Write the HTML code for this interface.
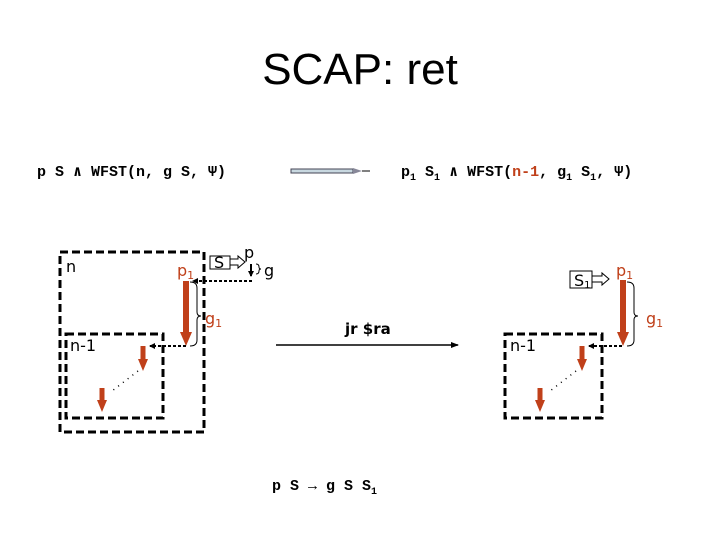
<!DOCTYPE html>
<html><head><meta charset="utf-8"><style>
html,body{margin:0;padding:0;background:#fff;}
svg{display:block}
.m{font-family:"Liberation Mono",monospace;font-size:15px;fill:#000;font-weight:bold}
.s{font-family:"DejaVu Sans","Liberation Sans",sans-serif;font-size:16px}
.o{fill:#c0401a}
</style></head><body>
<svg width="720" height="540" viewBox="0 0 720 540" xmlns="http://www.w3.org/2000/svg">
<defs>
<marker id="ah" markerWidth="8" markerHeight="8" refX="7" refY="4" orient="auto" markerUnits="userSpaceOnUse"><path d="M0,1 L8,4 L0,7 z" fill="#000"/></marker>
<marker id="sh" markerWidth="6" markerHeight="6" refX="5" refY="3" orient="auto" markerUnits="userSpaceOnUse"><path d="M0,0 L6,3 L0,6 z" fill="#000"/></marker>
</defs>
<text x="360" y="84" text-anchor="middle" font-family="Liberation Sans, sans-serif" font-size="44">SCAP: ret</text>

<text class="m" x="37" y="176">p S ∧ WFST(n, g S, Ψ)</text>
<rect x="291" y="169" width="62" height="4" fill="#c8d8e0" stroke="#445" stroke-width="1"/>
<path d="M353,168 L362,171 L353,174 z" fill="#889"/><line x1="362" y1="171" x2="370" y2="171" stroke="#000"/>
<text class="m" x="401" y="176">p<tspan font-size="10" dy="4">1</tspan><tspan dy="-4"> S</tspan><tspan font-size="10" dy="4">1</tspan><tspan dy="-4"> ∧ WFST(</tspan><tspan class="o">n-1</tspan>, g<tspan font-size="10" dy="4">1</tspan><tspan dy="-4"> S</tspan><tspan font-size="10" dy="4">1</tspan><tspan dy="-4">, Ψ)</tspan></text>

<!-- left -->
<g fill="none" stroke="#000" stroke-width="3" stroke-dasharray="8,4">
<rect x="60" y="252" width="144" height="180"/>
<rect x="66" y="334" width="97" height="84"/>
<rect x="505" y="334" width="97" height="84"/>
</g>
<text class="s" x="66" y="272">n</text>
<text class="s" x="70" y="351">n-1</text>
<text class="s o" x="177" y="276">p<tspan font-size="11" dy="3">1</tspan></text>
<rect x="210" y="256" width="20" height="13" fill="#fff" stroke="#000"/>
<text class="s" x="214" y="268" font-size="14">S</text>
<path d="M230,259 h8 v-3 l7,6 l-7,6 v-3 h-8 z" fill="#fff" stroke="#000"/>
<text class="s" x="244" y="258">p</text>
<line x1="251" y1="264" x2="251" y2="276" stroke="#000" stroke-width="2" marker-end="url(#sh)"/>
<path d="M256,264 q3,0 3,3 q0,2 2,2 q-2,0 -2,2 q0,3 -3,3" fill="none" stroke="#000"/>
<text class="s" x="264" y="276">g</text>
<line x1="252" y1="281" x2="193" y2="281" stroke="#000" stroke-width="2" stroke-dasharray="3,2" marker-end="url(#sh)"/>
<line x1="186" y1="281" x2="186" y2="332" stroke="#c0401a" stroke-width="6"/>
<path d="M180,332 L192,332 L186,346 z" fill="#c0401a"/>
<path d="M190,282 q7,0 7,6 v24 q0,4 4,4 q-4,0 -4,4 v20 q0,6 -7,6" fill="none" stroke="#000"/>
<text class="s o" x="205" y="324">g<tspan font-size="11" dy="3">1</tspan></text>
<line x1="186" y1="346" x2="150" y2="346" stroke="#000" stroke-width="2" stroke-dasharray="3,2" marker-end="url(#sh)"/>
<line x1="143" y1="346" x2="143" y2="360" stroke="#c0401a" stroke-width="5"/>
<path d="M138,359 L148,359 L143,371 z" fill="#c0401a"/>
<line x1="138" y1="371" x2="112" y2="391" stroke="#000" stroke-width="1.5" stroke-dasharray="1,5"/>
<line x1="102" y1="388" x2="102" y2="401" stroke="#c0401a" stroke-width="5"/>
<path d="M97,400 L107,400 L102,412 z" fill="#c0401a"/>

<!-- middle -->
<text x="345" y="334" font-family="DejaVu Sans, sans-serif" font-weight="bold" font-size="15">jr $ra</text>
<line x1="276" y1="345" x2="458" y2="345" stroke="#000" stroke-width="1.5" marker-end="url(#ah)"/>

<!-- right -->
<text class="s" x="510" y="351">n-1</text>
<rect x="570" y="271" width="22" height="17" fill="#fff" stroke="#000"/>
<text class="s" x="574" y="286" font-size="14">S<tspan font-size="10" dy="2">1</tspan></text>
<path d="M592,276 h10 v-3 l7,6 l-7,6 v-3 h-10 z" fill="#fff" stroke="#000"/>
<text class="s o" x="616" y="276">p<tspan font-size="11" dy="3">1</tspan></text>
<line x1="623" y1="280" x2="623" y2="332" stroke="#c0401a" stroke-width="6"/>
<path d="M617,332 L629,332 L623,346 z" fill="#c0401a"/>
<path d="M627,282 q7,0 7,6 v24 q0,4 4,4 q-4,0 -4,4 v20 q0,6 -7,6" fill="none" stroke="#000"/>
<text class="s o" x="646" y="324">g<tspan font-size="11" dy="3">1</tspan></text>
<line x1="622" y1="346" x2="589" y2="346" stroke="#000" stroke-width="2" stroke-dasharray="3,2" marker-end="url(#sh)"/>
<line x1="582" y1="346" x2="582" y2="360" stroke="#c0401a" stroke-width="5"/>
<path d="M577,359 L587,359 L582,371 z" fill="#c0401a"/>
<line x1="576" y1="371" x2="550" y2="391" stroke="#000" stroke-width="1.5" stroke-dasharray="1,5"/>
<line x1="540" y1="388" x2="540" y2="401" stroke="#c0401a" stroke-width="5"/>
<path d="M535,400 L545,400 L540,412 z" fill="#c0401a"/>

<text class="m" x="272" y="490">p S → g S S<tspan font-size="10" dy="4">1</tspan></text>
</svg>
</body></html>
